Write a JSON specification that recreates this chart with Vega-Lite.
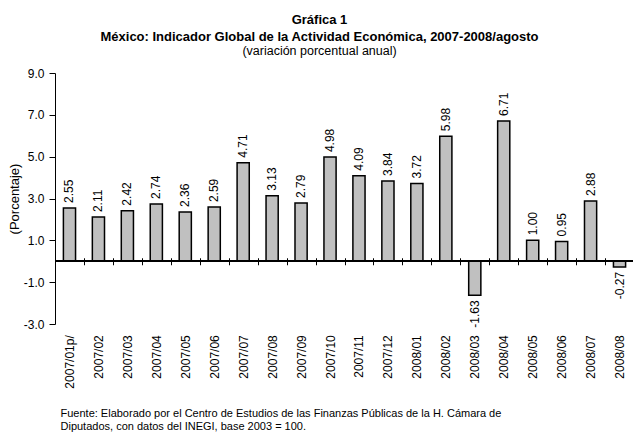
{
  "$schema": "https://vega.github.io/schema/vega-lite/v6.json",
  "width": 579,
  "height": 251,
  "autosize": {"type": "none"},
  "padding": {"left": 55, "top": 73, "right": 0, "bottom": 110},
  "background": "white",
  "config": {
    "view": {"stroke": null},
    "font": "Liberation Sans",
    "locale": {"number": {"decimal": ".", "thousands": ",", "grouping": [3], "currency": ["$", ""], "minus": "-"}},
    "axis": {"grid": false, "labelColor": "black", "titleColor": "black", "domainColor": "black", "tickColor": "black", "labelFont": "Liberation Sans", "titleFont": "Liberation Sans"}
  },
  "title": {
    "text": ["Gráfica 1", "México: Indicador Global de la Actividad Económica, 2007-2008/agosto"],
    "subtitle": "(variación porcentual anual)",
    "font": "Liberation Sans",
    "fontSize": 13,
    "fontWeight": "bold",
    "lineHeight": 17,
    "color": "black",
    "subtitleFont": "Liberation Sans",
    "subtitleFontSize": 12.5,
    "subtitleFontWeight": "normal",
    "subtitleColor": "black",
    "subtitlePadding": 1,
    "anchor": "middle",
    "dx": -25,
    "offset": 10
  },
  "data": {
    "values": [
      {"mes": "2007/01p/", "v": 2.55},
      {"mes": "2007/02", "v": 2.11},
      {"mes": "2007/03", "v": 2.42},
      {"mes": "2007/04", "v": 2.74},
      {"mes": "2007/05", "v": 2.36},
      {"mes": "2007/06", "v": 2.59},
      {"mes": "2007/07", "v": 4.71},
      {"mes": "2007/08", "v": 3.13},
      {"mes": "2007/09", "v": 2.79},
      {"mes": "2007/10", "v": 4.98},
      {"mes": "2007/11", "v": 4.09},
      {"mes": "2007/12", "v": 3.84},
      {"mes": "2008/01", "v": 3.72},
      {"mes": "2008/02", "v": 5.98},
      {"mes": "2008/03", "v": -1.63},
      {"mes": "2008/04", "v": 6.71},
      {"mes": "2008/05", "v": 1.00},
      {"mes": "2008/06", "v": 0.95},
      {"mes": "2008/07", "v": 2.88},
      {"mes": "2008/08", "v": -0.27}
    ]
  },
  "layer": [
    {
      "mark": {"type": "bar", "fill": "#c0c0c0", "stroke": "black", "strokeWidth": 1.5, "width": {"band": 0.42}},
      "encoding": {
        "x": {
          "field": "mes", "type": "nominal", "sort": null,
          "scale": {"paddingInner": 0, "paddingOuter": 0},
          "axis": {
            "title": ["Fuente: Elaborado por el Centro de Estudios de las Finanzas Públicas de la H. Cámara de", "Diputados, con datos del INEGI, base 2003 = 100."],
            "titleFontSize": 11,
            "titleFontWeight": "normal",
            "titleAnchor": "start",
            "titleAlign": "left",
            "titleBaseline": "alphabetic",
            "titleLineHeight": 13,
            "titleX": 5,
            "titleY": 159,
            "domain": false,
            "offset": -66.25,
            "tickSize": 7,
            "tickWidth": 1,
            "tickBand": "extent",
            "labelAngle": 270,
            "labelFontSize": 12,
            "labelPadding": 70
          }
        },
        "y": {
          "field": "v", "type": "quantitative",
          "scale": {"domain": [-3, 9], "nice": false, "zero": false},
          "axis": {
            "title": "(Porcentaje)",
            "titleFontSize": 13,
            "titleFontWeight": "normal",
            "titlePadding": 2,
            "values": [-3, -1, 1, 3, 5, 7, 9],
            "format": ".1f",
            "labelFontSize": 12,
            "labelPadding": 5,
            "tickSize": 6,
            "domainWidth": 1
          }
        }
      }
    },
    {
      "mark": {"type": "rule", "color": "black", "strokeWidth": 1},
      "encoding": {"y": {"datum": 0, "type": "quantitative"}}
    },
    {
      "transform": [{"filter": "datum.v >= 0"}],
      "mark": {"type": "text", "angle": 270, "align": "left", "baseline": "middle", "dx": 5, "fontSize": 12, "color": "black"},
      "encoding": {
        "x": {"field": "mes", "type": "nominal", "sort": null},
        "y": {"field": "v", "type": "quantitative"},
        "text": {"field": "v", "type": "quantitative", "format": ".2f"}
      }
    },
    {
      "transform": [{"filter": "datum.v < 0"}],
      "mark": {"type": "text", "angle": 270, "align": "right", "baseline": "middle", "dx": -5, "fontSize": 12, "color": "black"},
      "encoding": {
        "x": {"field": "mes", "type": "nominal", "sort": null},
        "y": {"field": "v", "type": "quantitative"},
        "text": {"field": "v", "type": "quantitative", "format": ".2f"}
      }
    }
  ]
}
